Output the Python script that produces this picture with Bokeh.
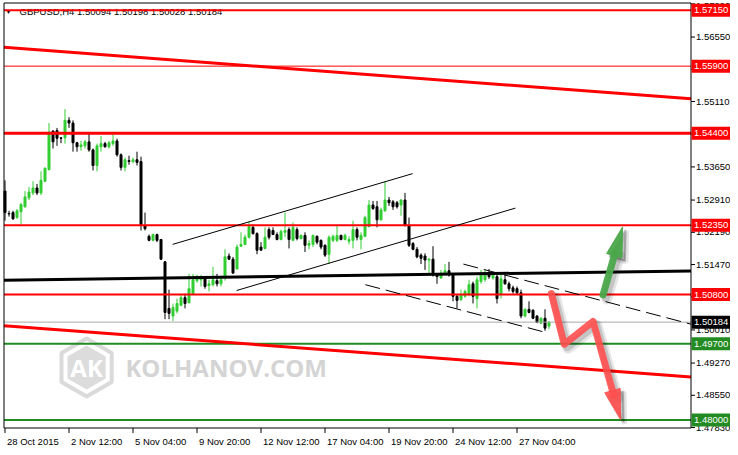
import math
from bokeh.plotting import figure
from bokeh.models import Range1d
from bokeh.embed import file_html
from bokeh.resources import INLINE
from bokeh.core.properties import value

# ---------------- data (GBPUSD H4) ----------------
opens = [1.5311, 1.5261, 1.5263, 1.5252, 1.5265, 1.5276, 1.5296, 1.5307, 1.5318, 1.5307,
         1.5333, 1.5359, 1.5445, 1.5446, 1.5430, 1.5430, 1.5469, 1.5463, 1.5419, 1.5410,
         1.5412, 1.5421, 1.5403, 1.5368, 1.5410, 1.5417, 1.5410, 1.5417, 1.5423, 1.5392,
         1.5364, 1.5379, 1.5377, 1.5381, 1.5377, 1.5234, 1.5210, 1.5201, 1.5214, 1.5203,
         1.5153, 1.5049, 1.5032, 1.5043, 1.5056, 1.5073, 1.5062, 1.5082, 1.5111, 1.5113,
         1.5115, 1.5100, 1.5102, 1.5111, 1.5104, 1.5120, 1.5166, 1.5159, 1.5137, 1.5188,
         1.5192, 1.5208, 1.5230, 1.5216, 1.5186, 1.5183, 1.5225, 1.5223, 1.5214, 1.5203,
         1.5219, 1.5225, 1.5201, 1.5225, 1.5205, 1.5212, 1.5190, 1.5192, 1.5210, 1.5201,
         1.5190, 1.5170, 1.5201, 1.5201, 1.5212, 1.5203, 1.5199, 1.5201, 1.5225, 1.5203,
         1.5210, 1.5232, 1.5280, 1.5276, 1.5247, 1.5267, 1.5291, 1.5287, 1.5285, 1.5280,
         1.5291, 1.5234, 1.5194, 1.5181, 1.5168, 1.5166, 1.5157, 1.5159, 1.5126, 1.5117,
         1.5126, 1.5133, 1.5124, 1.5076, 1.5069, 1.5076, 1.5080, 1.5104, 1.5071, 1.5109,
         1.5113, 1.5128, 1.5117, 1.5120, 1.5080, 1.5113, 1.5104, 1.5095, 1.5093, 1.5084,
         1.5032, 1.5047, 1.5045, 1.5032, 1.5016, 1.5027, 1.50094]
highs = [1.5335, 1.5267, 1.5267, 1.5271, 1.5285, 1.5311, 1.5320, 1.5333, 1.5327, 1.5355,
         1.5364, 1.5463, 1.5447, 1.5452, 1.5431, 1.5494, 1.5476, 1.5469, 1.5421, 1.5423,
         1.5425, 1.5441, 1.5406, 1.5417, 1.5434, 1.5421, 1.5423, 1.5441, 1.5428, 1.5395,
         1.5386, 1.5390, 1.5386, 1.5399, 1.5388, 1.5263, 1.5214, 1.5216, 1.5216, 1.5203,
         1.5155, 1.5091, 1.5060, 1.5071, 1.5080, 1.5082, 1.5126, 1.5126, 1.5124, 1.5124,
         1.5120, 1.5113, 1.5142, 1.5126, 1.5122, 1.5181, 1.5172, 1.5164, 1.5192, 1.5219,
         1.5214, 1.5243, 1.5236, 1.5219, 1.5197, 1.5230, 1.5230, 1.5230, 1.5219, 1.5225,
         1.5263, 1.5230, 1.5241, 1.5230, 1.5214, 1.5219, 1.5201, 1.5214, 1.5212, 1.5203,
         1.5192, 1.5212, 1.5214, 1.5234, 1.5214, 1.5216, 1.5210, 1.5245, 1.5230, 1.5219,
         1.5256, 1.5291, 1.5289, 1.5289, 1.5274, 1.5333, 1.5298, 1.5291, 1.5289, 1.5293,
         1.5307, 1.5252, 1.5197, 1.5186, 1.5172, 1.5172, 1.5161, 1.5188, 1.5128, 1.5135,
         1.5148, 1.5153, 1.5126, 1.5080, 1.5091, 1.5091, 1.5113, 1.5109, 1.5120, 1.5135,
         1.5135, 1.5137, 1.5131, 1.5126, 1.5126, 1.5124, 1.5109, 1.5100, 1.5098, 1.5091,
         1.5049, 1.5065, 1.5047, 1.5034, 1.5029, 1.5047, 1.50198]
lows = [1.5245, 1.5254, 1.5247, 1.5249, 1.5236, 1.5274, 1.5291, 1.5302, 1.5302, 1.5302,
        1.5331, 1.5357, 1.5406, 1.5412, 1.5418, 1.5417, 1.5452, 1.5399, 1.5399, 1.5401,
        1.5406, 1.5399, 1.5357, 1.5355, 1.5399, 1.5408, 1.5406, 1.5412, 1.5388, 1.5357,
        1.5355, 1.5370, 1.5373, 1.5368, 1.5223, 1.5223, 1.5199, 1.5199, 1.5197, 1.5157,
        1.5025, 1.5025, 1.5021, 1.5038, 1.5054, 1.5049, 1.5060, 1.5080, 1.5106, 1.5098,
        1.5093, 1.5087, 1.5098, 1.5098, 1.5098, 1.5111, 1.5157, 1.5126, 1.5137, 1.5186,
        1.5190, 1.5205, 1.5214, 1.5170, 1.5179, 1.5181, 1.5203, 1.5214, 1.5201, 1.5201,
        1.5208, 1.5183, 1.5201, 1.5201, 1.5203, 1.5175, 1.5181, 1.5186, 1.5192, 1.5181,
        1.5164, 1.5148, 1.5197, 1.5197, 1.5201, 1.5201, 1.5192, 1.5183, 1.5201, 1.5181,
        1.5208, 1.5230, 1.5269, 1.5230, 1.5245, 1.5265, 1.5278, 1.5269, 1.5272, 1.5256,
        1.5232, 1.5186, 1.5179, 1.5161, 1.5148, 1.5135, 1.5122, 1.5120, 1.5104, 1.5115,
        1.5124, 1.5120, 1.5065, 1.5049, 1.5065, 1.5073, 1.5076, 1.5060, 1.5049, 1.5104,
        1.5109, 1.5115, 1.5113, 1.5060, 1.5071, 1.5102, 1.5087, 1.5082, 1.5080, 1.5027,
        1.5029, 1.5038, 1.5025, 1.5016, 1.5016, 1.4999, 1.50028]
closes = [1.5263, 1.5260, 1.5249, 1.5267, 1.5281, 1.5298, 1.5309, 1.5318, 1.5307, 1.5335,
          1.5362, 1.5443, 1.5421, 1.5429, 1.5429, 1.5469, 1.5463, 1.5419, 1.5410, 1.5414,
          1.5421, 1.5403, 1.5368, 1.5412, 1.5417, 1.5410, 1.5419, 1.5423, 1.5392, 1.5364,
          1.5381, 1.5377, 1.5381, 1.5375, 1.5236, 1.5227, 1.5201, 1.5214, 1.5201, 1.5159,
          1.5040, 1.5038, 1.5051, 1.5060, 1.5073, 1.5060, 1.5093, 1.5113, 1.5120, 1.5115,
          1.5098, 1.5104, 1.5113, 1.5104, 1.5113, 1.5164, 1.5159, 1.5128, 1.5186, 1.5192,
          1.5208, 1.5232, 1.5216, 1.5179, 1.5179, 1.5208, 1.5208, 1.5214, 1.5203, 1.5221,
          1.5223, 1.5203, 1.5230, 1.5205, 1.5212, 1.5190, 1.5194, 1.5212, 1.5197, 1.5186,
          1.5168, 1.5208, 1.5210, 1.5212, 1.5203, 1.5212, 1.5203, 1.5225, 1.5208, 1.5212,
          1.5252, 1.5280, 1.5272, 1.5247, 1.5269, 1.5291, 1.5285, 1.5276, 1.5276, 1.5291,
          1.5234, 1.5190, 1.5181, 1.5164, 1.5161, 1.5157, 1.5159, 1.5124, 1.5120, 1.5128,
          1.5133, 1.5124, 1.5076, 1.5067, 1.5080, 1.5087, 1.5102, 1.5076, 1.5113, 1.5124,
          1.5128, 1.5120, 1.5124, 1.5071, 1.5115, 1.5104, 1.5093, 1.5087, 1.5084, 1.5032,
          1.5047, 1.5040, 1.5027, 1.5018, 1.5027, 1.5005, 1.50184]

date_ticks = [0, 16, 32, 48, 64, 80, 96, 112, 128]
date_labels = ["28 Oct 2015", "2 Nov 12:00", "5 Nov 04:00", "9 Nov 20:00", "12 Nov 12:00",
               "17 Nov 04:00", "19 Nov 20:00", "24 Nov 12:00", "27 Nov 04:00"]
price_ticks = [1.4783, 1.4855, 1.4927, 1.5001, 1.5075, 1.5147, 1.5219, 1.5291, 1.5365,
               1.5439, 1.5511, 1.5583, 1.5655, 1.5729]

red_levels = [1.5715, 1.5590, 1.5440, 1.5235, 1.5080]
red_level_widths = [2, 1, 3, 2, 2]
green_levels = [1.4970, 1.4800]

# trend lines: anchor points (bar index, price)
red_slope_upper = ([-0.1, 173.1], [1.5632, 1.5516])
red_slope_lower = ([-0.1, 173.1], [1.5010, 1.4895])
black_line = ([-0.1, 173.1], [1.5112, 1.5133])
chan_up_upper = ([41.9, 101.9], [1.5192, 1.5350])
chan_up_lower = ([57.9, 127.6], [1.5089, 1.5273])
chan_dn_upper = ([114.6, 173.1], [1.5148, 1.5010])
chan_dn_lower = ([90.1, 134.9], [1.5102, 1.4996])
green_arrow = ([149.5, 154.4], [1.5079, 1.5231])
red_arrow = ([136.6, 139.8, 147.0, 153.9], [1.5082, 1.4969, 1.5020, 1.4801])

# ---------------- layout (pixels) ----------------
W, H = 730, 447
BL, BT, BR, BB = 3.5, 2.5, 690.5, 427.5   # chart border
BAR_PX = 4.0
X0 = -1.125                               # bar index at pixel x = 0
P_TOP, P_BOT = 1.5731, 1.4782             # prices at the top / bottom border
ky = (BB - BT) / (P_TOP - P_BOT)
kx = BAR_PX

def dx(X):
    return X0 + X / kx

def dy(Y):
    return P_TOP - (Y - BT) / ky

p = figure(width=W, height=H,
           x_range=Range1d(dx(0), dx(W)), y_range=Range1d(dy(H), dy(0)),
           toolbar_location=None, output_backend="svg",
           min_border=0, min_border_left=0, min_border_right=0,
           min_border_top=0, min_border_bottom=0,
           background_fill_color="white", border_fill_color="white")
p.axis.visible = False
p.xgrid.visible = False
p.ygrid.visible = False
p.outline_line_color = None

FONT = value("Liberation Sans")
FS = value("9.5px")
xL, xR, yT, yB = dx(BL), dx(BR), dy(BT), dy(BB)

# ---------------- watermark ----------------
wm_x, wm_y = 20.4, 1.4917
p.scatter(x=[wm_x], y=[wm_y], marker="hex", size=58, angle=math.pi / 6,
          fill_color=None, line_color="#dadada", line_width=4)
p.scatter(x=[wm_x], y=[wm_y], marker="hex", size=44, angle=math.pi / 6,
          fill_color="#dcdcdc", line_color=None)
p.text(x=[wm_x], y=[wm_y], text=["AK"], text_color="white", text_align="center",
       text_baseline="middle", text_font=value("Open Sans"), text_font_style="bold",
       text_font_size=value("24px"))
p.text(x=[wm_x + 9.7], y=[wm_y], text=["KOLHANOV.COM"], text_color="#d4d4d4",
       text_align="left", text_baseline="middle", text_font=value("Open Sans"),
       text_font_style="bold", text_font_size=value("24px"))

# header
p.text(x=[dx(4.5)], y=[dy(11)], text=["▼"], text_font_size=value("7px"),
       text_baseline="middle", text_color="black")
p.text(x=[dx(19)], y=[dy(11)],
       text=[f"GBPUSD,H4  {opens[-1]:.5f} {highs[-1]:.5f} {lows[-1]:.5f} {closes[-1]:.5f}"],
       text_font=FONT, text_font_size=FS, text_baseline="middle", text_color="black")

# ---------------- candles ----------------
idx = list(range(len(opens)))
cols = ["#32CD32" if c >= o else "#000000" for o, c in zip(opens, closes)]
tops = [max(o, c) for o, c in zip(opens, closes)]
bots = [min(o, c) for o, c in zip(opens, closes)]
p.segment(x0=idx, y0=lows, x1=idx, y1=highs, line_color=cols, line_width=1)
p.vbar(x=idx, width=2 / kx, top=tops, bottom=bots, fill_color=cols, line_color=cols,
       line_width=1)

# ---------------- lines ----------------
def through(pts, xa_, xb_):
    (x1, x2), (y1, y2) = pts
    m = (y2 - y1) / (x2 - x1)
    return [xa_, xb_], [y1 + m * (xa_ - x1), y1 + m * (xb_ - x1)]

def hlines(levels, color, widths):
    p.segment(x0=[xL] * len(levels), y0=levels, x1=[xR] * len(levels), y1=levels,
              line_color=color, line_width=widths)

hlines([closes[-1]], "#a8a8a8", 1)
hlines(red_levels, "#ff0000", red_level_widths)
hlines(green_levels, "#228b22", 2)

for pts in (red_slope_upper, red_slope_lower):
    lx, ly = through(pts, xL, xR)
    p.line(lx, ly, line_color="#ff0000", line_width=3)
lx, ly = through(black_line, xL, xR)
p.line(lx, ly, line_color="black", line_width=3)

for pts in (chan_up_upper, chan_up_lower):
    p.line(pts[0], pts[1], line_color="black", line_width=1)
lx, ly = through(chan_dn_upper, chan_dn_upper[0][0], xR)
p.line(lx, ly, line_color="black", line_width=1, line_dash="15 6")
p.line(chan_dn_lower[0], chan_dn_lower[1], line_color="black", line_width=1,
       line_dash="15 6")

# ---------------- arrows ----------------
def arrow(path, color, alpha, L=30, hw=8, w=7):
    xs, ys = list(path[0]), list(path[1])
    x0, y0, x1, y1 = xs[-2], ys[-2], xs[-1], ys[-1]
    dxp, dyp = (x1 - x0) * kx, (y1 - y0) * ky
    n = math.hypot(dxp, dyp)
    ux, uy = dxp / n, dyp / n
    bx, by = x1 - L * ux / kx, y1 - L * uy / ky
    px_, py_ = -uy, ux
    tx = [x1, bx + hw * px_ / kx, bx - hw * px_ / kx]
    ty = [y1, by + hw * py_ / ky, by - hw * py_ / ky]
    sx = xs[:-1] + [bx + 4 * ux / kx]
    sy = ys[:-1] + [by + 4 * uy / ky]
    for off, sw, sa in ((4, w + 4, 0.10), (3, w + 1, 0.14)):
        ox, oy = off / kx, -off / ky
        p.line([v + ox for v in sx], [v + oy for v in sy], line_color="black",
               line_alpha=sa, line_width=sw, line_join="round", line_cap="round")
        p.patch([v + ox for v in tx], [v + oy for v in ty], fill_color="black",
                fill_alpha=sa, line_color="black", line_alpha=sa, line_width=sw - w + 1)
    p.line(sx, sy, line_color=color, line_alpha=alpha, line_width=w,
           line_join="round", line_cap="round")
    p.patch(tx, ty, fill_color=color, fill_alpha=alpha, line_color=color,
            line_alpha=alpha, line_width=1)

arrow(green_arrow, "#4aa84a", 0.95)
arrow(red_arrow, "#ff4f4f", 0.9)

# ---------------- border ----------------
p.line([xL, xR, xR, xL, xL], [yT, yT, yB, yB, yT], line_color="black", line_width=1)

# ---------------- right price scale ----------------
vis_ticks = [t for t in price_ticks if P_BOT <= t <= P_TOP]
p.segment(x0=[xR] * len(vis_ticks), y0=vis_ticks, x1=[dx(BR + 4)] * len(vis_ticks),
          y1=vis_ticks, line_color="black", line_width=1)
lab_y = [min(t, dy(5.5)) for t in vis_ticks]
p.text(x=[dx(BR + 5)] * len(vis_ticks), y=lab_y, text=[f"{t:.5f}" for t in vis_ticks],
       text_font=FONT, text_font_size=FS, text_baseline="middle", text_align="left",
       text_color="black")

box_vals = red_levels + green_levels + [closes[-1]]
box_cols = ["#ff0000"] * len(red_levels) + ["#228b22"] * len(green_levels) + ["#000000"]
p.quad(left=[dx(BR + 0.5)] * len(box_vals), right=[dx(W)] * len(box_vals),
       top=[v + 6.5 / ky for v in box_vals], bottom=[v - 6.5 / ky for v in box_vals],
       fill_color=box_cols, line_color=None)
p.text(x=[dx(BR + 3)] * len(box_vals), y=box_vals, text=[f"{v:.5f}" for v in box_vals],
       text_font=FONT, text_font_size=FS, text_baseline="middle", text_align="left",
       text_color="white")

# ---------------- time scale ----------------
p.segment(x0=date_ticks, y0=[yB] * len(date_ticks), x1=date_ticks,
          y1=[dy(BB + 5)] * len(date_ticks), line_color="black", line_width=1)
p.text(x=[t + 2 / kx for t in date_ticks], y=[dy(BB + 8)] * len(date_ticks),
       text=date_labels, text_font=FONT, text_font_size=FS, text_baseline="top",
       text_align="left", text_color="black")

open("out.html", "w").write(file_html(p, INLINE))
